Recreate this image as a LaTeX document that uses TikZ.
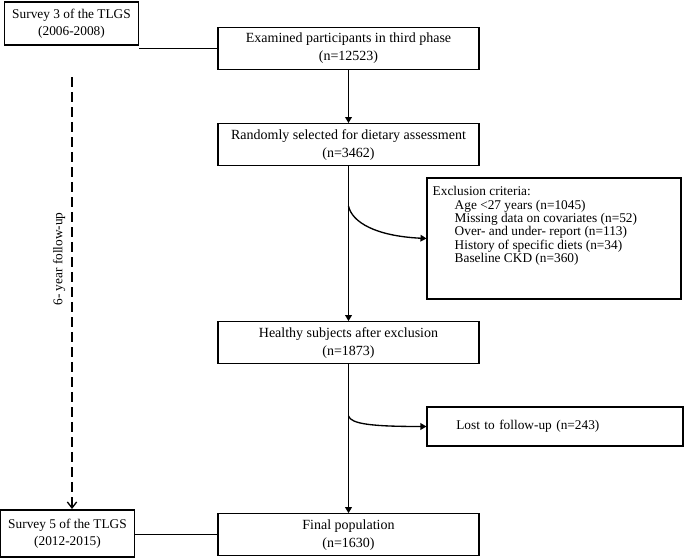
\documentclass[tikz,border=0pt]{standalone}
\usepackage{fontspec}
\setmainfont{Liberation Serif}
\usetikzlibrary{arrows.meta,positioning}

\begin{document}
\begin{tikzpicture}[x=0.75pt, y=-0.75pt, font=\fontsize{10}{12.5}\selectfont, node distance=40pt,
    box/.style={draw, line width=0.8pt, align=center, inner sep=2pt},
    mainbox/.style={box, minimum width=195.75pt, minimum height=31.5pt, font=\fontsize{10.5}{13.5}\selectfont},
    survey/.style={box, minimum width=100pt, minimum height=32.25pt},
    flow/.style={line width=1pt, -{Triangle[length=4.5pt,width=5pt]}},
    plain/.style={line width=0.8pt},
    follow/.style={line width=1pt, dash pattern=on 7.5pt off 3.75pt, -{Straight Barb[length=4.5pt,width=7pt]}}]
    \useasboundingbox (0,0) rectangle (685,557);
    \node[mainbox] (examined) at (348.5,48.5) {Examined participants in third phase\\(n=12523)};
    \node[mainbox, below=39.75pt of examined] (randomly) {Randomly selected for dietary assessment\\(n=3462)};
    \node[mainbox, below=116.25pt of randomly] (healthy) {Healthy subjects after exclusion\\(n=1873)};
    \node[mainbox, below=111.75pt of healthy] (final) {Final population\\(n=1630)};
    \node[survey] (survey3) at (71.5,23.5) {Survey 3 of the TLGS\\(2006-2008)};
    \node[survey, minimum height=35.25pt] (survey5) at (67.5,533.5) {Survey 5 of the TLGS\\(2012-2015)};
    \node[box, minimum width=190.5pt, minimum height=90.75pt] (excl) at (554,238.5) {};
    \node[anchor=north west, inner sep=0pt, align=left, font=\fontsize{10}{10}\selectfont] (excltext)
      at ([xshift=4.5pt,yshift=-6.75pt]excl.north west)
      {Exclusion criteria:\\
       \hspace*{16.5pt}Age <27 years (n=1045)\\
       \hspace*{16.5pt}Missing data on covariates (n=52)\\
       \hspace*{16.5pt}Over- and under- report (n=113)\\
       \hspace*{16.5pt}History of specific diets (n=34)\\
       \hspace*{16.5pt}Baseline CKD (n=360)};
    \node[box, minimum height=29.25pt, text width=148pt, align=left, inner xsep=22pt] (lost)
      at (555,426.5) {Lost to follow-up (n=243)};
    \node[rotate=90] (followup) at (59,259) {6- year follow-up};
    \coordinate (s3end) at (survey3.east |- examined.west);
    \coordinate (dtop) at (72,77);
    \coordinate (dbot) at (72,509);
    \coordinate (fork1) at (348.5,206);
    \coordinate (fork2) at (348.5,416);
    \path
    (examined) edge[flow] (randomly)
    (randomly) edge[flow] (healthy)
    (healthy) edge[flow] (final)
    (examined.west) edge[plain] (s3end)
    (final.west) edge[plain] (final.west -| survey5.east)
    (dtop) edge[follow] (dbot)
    ;
    \draw[flow] (fork1) .. controls (352,222) and (375,236) .. (excl.west);
    \draw[flow] (fork2) .. controls (351,424) and (372,426.5) .. (lost.west);
\end{tikzpicture}
\end{document}
